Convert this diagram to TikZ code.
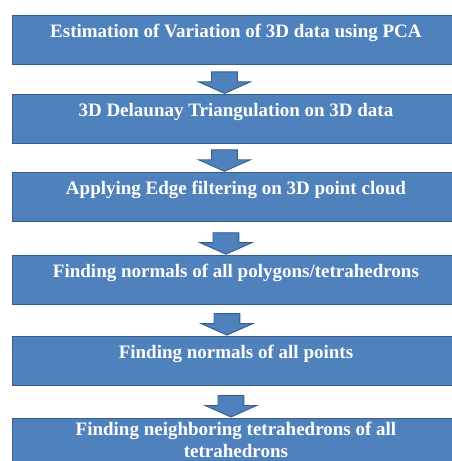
\documentclass[tikz,border=0pt]{standalone}
\usepackage{fontspec}
\setmainfont{Liberation Serif}
\usetikzlibrary{positioning, shapes.arrows}
\definecolor{boxblue}{HTML}{4F81BD}
\definecolor{boxedge}{HTML}{385D8A}

\begin{document}
\begin{tikzpicture}[x=1pt,y=1pt,
    every node/.style={draw=boxedge, line width=0.9pt, fill=boxblue},
    stage/.style={rectangle, minimum width=448pt, inner xsep=4pt, inner ysep=0pt, text height=22.5pt, text depth=26.5pt, align=center, text=white, font=\fontsize{19}{22}\selectfont\bfseries},
    down/.style={single arrow, shape border rotate=270, minimum height=21.5pt, minimum width=51pt, single arrow head extend=13pt, single arrow tip angle=132, inner xsep=12.5pt, inner ysep=0pt, anchor=tip}]
    \useasboundingbox (0,0) rectangle (451,-461);

    \node [stage, anchor=north west] (pca) at (11.5,-15) {Estimation of Variation of 3D data using PCA};
    \node [stage, below = 29pt of pca] (delaunay) {3D Delaunay Triangulation on 3D data};
    \node [stage, below = 28pt of delaunay] (edgefilter) {Applying Edge filtering on 3D point cloud};
    \node [stage, below = 33pt of edgefilter] (polynormals) {Finding normals of all polygons/tetrahedrons};
    \node [stage, below = 31pt of polynormals] (pointnormals) {Finding normals of all points};
    \node [stage, below = 32pt of pointnormals, text height=40pt, text depth=10pt] (neighbours) {Finding neighboring tetrahedrons of all\\tetrahedrons};

    \node [down] (todelaunay) at ([xshift=-11.5pt]delaunay.north) {};
    \node [down] (toedgefilter) at ([xshift=-11.5pt]edgefilter.north) {};
    \node [down] (topolynormals) at ([xshift=-10pt]polynormals.north) {};
    \node [down] (topointnormals) at ([xshift=-9pt]pointnormals.north) {};
    \node [down] (toneighbours) at ([xshift=-5pt]neighbours.north) {};
\end{tikzpicture}
\end{document}
